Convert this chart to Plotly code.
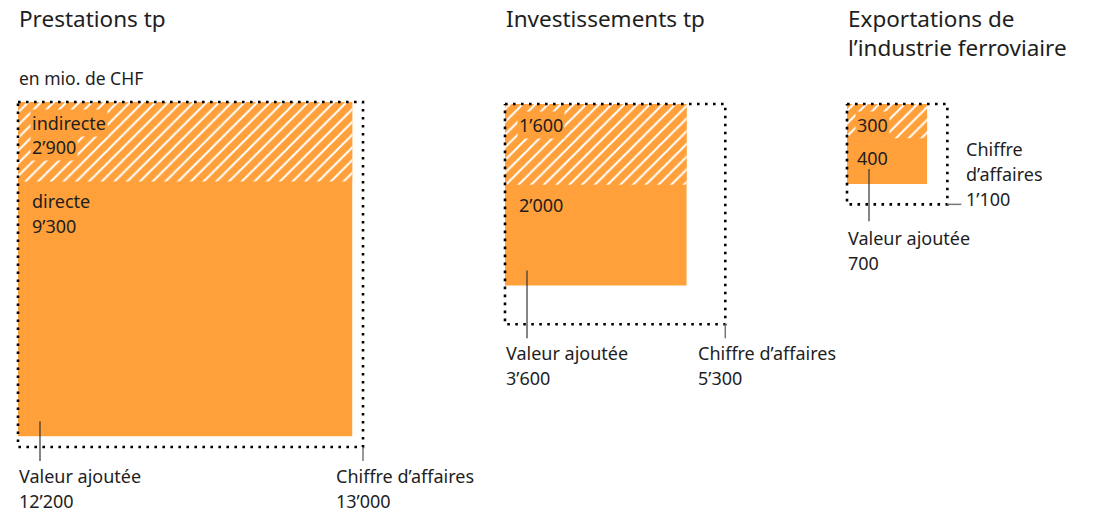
import math
import plotly.graph_objects as go

# ---- data ----
groups = ["Prestations tp", "Investissements tp", "Exportations de<br>l’industrie ferroviaire"]
chiffre = [13000, 5300, 1100]
valeur = [12200, 3600, 700]
indirecte = [2900, 1600, 300]
directe = [9300, 2000, 400]
inner_names = [["indirecte", "directe"], ["", ""], ["", ""]]
unit_label = "en mio. de CHF"


def fmt(v):
    return f"{v:,}".replace(",", "’")


# ---- layout settings ----
W, H = 1097, 511
PAD = 8  # page body margin
ORANGE = "#FFA03A"
TXT = "#1e1e1e"
FONT = "Noto Sans"
LBL = 18
x0s = [18, 505, 847]
y0s = [102, 104, 104]
k = 345 / math.sqrt(max(chiffre))  # px per sqrt(unit)

fig = go.Figure()
ann = []


def rect(x, y, w, h):
    return [x, x + w, x + w, x, x], [y, y, y + h, y + h, y]


for i in range(len(groups)):
    x0, y0 = x0s[i], y0s[i]
    sc = k * math.sqrt(chiffre[i])
    sv = k * math.sqrt(valeur[i])
    hi = sv * indirecte[i] / valeur[i]

    # valeur ajoutée (directe, solid)
    xs, ys = rect(x0, y0, sv, sv)
    fig.add_trace(go.Scatter(x=xs, y=ys, fill="toself", fillcolor=ORANGE,
                             line=dict(width=0), mode="lines", hoverinfo="skip"))
    # indirecte (hatched)
    xs, ys = rect(x0, y0, sv, hi)
    fig.add_trace(go.Scatter(x=xs, y=ys, fill="toself", fillcolor=ORANGE,
                             fillpattern=dict(shape="/", fgcolor="white", bgcolor=ORANGE,
                                              size=9, solidity=0.22, fillmode="replace"),
                             line=dict(width=0), mode="lines", hoverinfo="skip"))
    # chiffre d'affaires (dotted outline)
    xs, ys = rect(x0, y0, sc, sc)
    fig.add_trace(go.Scatter(x=xs, y=ys, mode="lines",
                             line=dict(color="black", width=2.6, dash="2.6px,5.4px"),
                             hoverinfo="skip"))

    # inner labels
    n_ind, n_dir = inner_names[i]
    lx = x0 + (12 if i < 2 else 8)
    yl = y0 + 21
    lines_ind = ([n_ind] if n_ind else []) + [fmt(indirecte[i])]
    for j, t in enumerate(lines_ind):
        ann.append(dict(x=lx, y=yl + 24 * j, text=t, bgcolor=ORANGE, borderpad=1))
    yd = y0 + hi + 20
    lines_dir = ([n_dir] if n_dir else []) + [fmt(directe[i])]
    for j, t in enumerate(lines_dir):
        ann.append(dict(x=lx, y=yd + 25 * j, text=t))

    # valeur ajoutée leader + label
    vx = x0 + 22
    if i == 2:
        v_end = y0 + sc + 17
        v_lab = y0 + sc + 34
    else:
        v_end = y0 + sc + 14
        v_lab = y0 + sc + 29
    fig.add_trace(go.Scatter(x=[vx, vx], y=[y0 + sv - 15, v_end], mode="lines",
                             line=dict(color="#333333", width=1.2), hoverinfo="skip"))
    ann.append(dict(x=x0 - 1, y=v_lab, text="Valeur ajoutée"))
    ann.append(dict(x=x0 - 1, y=v_lab + 25, text=fmt(valeur[i])))

    # chiffre d'affaires leader + label
    cx, cy = x0 + sc, y0 + sc
    if i == 2:
        fig.add_trace(go.Scatter(x=[cx, cx + 14], y=[cy, cy], mode="lines",
                                 line=dict(color="#777777", width=1.5), hoverinfo="skip"))
        tx = cx + 17
        for j, t in enumerate(["Chiffre", "d’affaires", fmt(chiffre[i])]):
            ann.append(dict(x=tx, y=cy - 55 + 25 * j, text=t))
    else:
        fig.add_trace(go.Scatter(x=[cx, cx], y=[cy, cy + 14], mode="lines",
                                 line=dict(color="#777777", width=1.5), hoverinfo="skip"))
        tx = cx - 29
        ann.append(dict(x=tx, y=v_lab, text="Chiffre d’affaires"))
        ann.append(dict(x=tx, y=v_lab + 25, text=fmt(chiffre[i])))

    # titles
    for j, t in enumerate(groups[i].split("<br>")):
        ann.append(dict(x=x0 - 1, y=18 + 29 * j, text=t, font=dict(size=22.5, color=TXT, family=FONT)))

ann.append(dict(x=17, y=78, text=unit_label, font=dict(size=17.5, color=TXT, family=FONT)))

for a in ann:
    a.setdefault("font", dict(size=LBL, color=TXT, family=FONT))
    a.update(xref="x", yref="y", xanchor="left", yanchor="middle", showarrow=False)

fig.update_layout(
    width=W - PAD, height=H - PAD, margin=dict(l=0, r=0, t=0, b=0),
    paper_bgcolor="white", plot_bgcolor="white", showlegend=False,
    xaxis=dict(range=[PAD, W], visible=False, fixedrange=True),
    yaxis=dict(range=[H, PAD], visible=False, fixedrange=True),
    annotations=ann,
)
fig.write_html("out.html")
